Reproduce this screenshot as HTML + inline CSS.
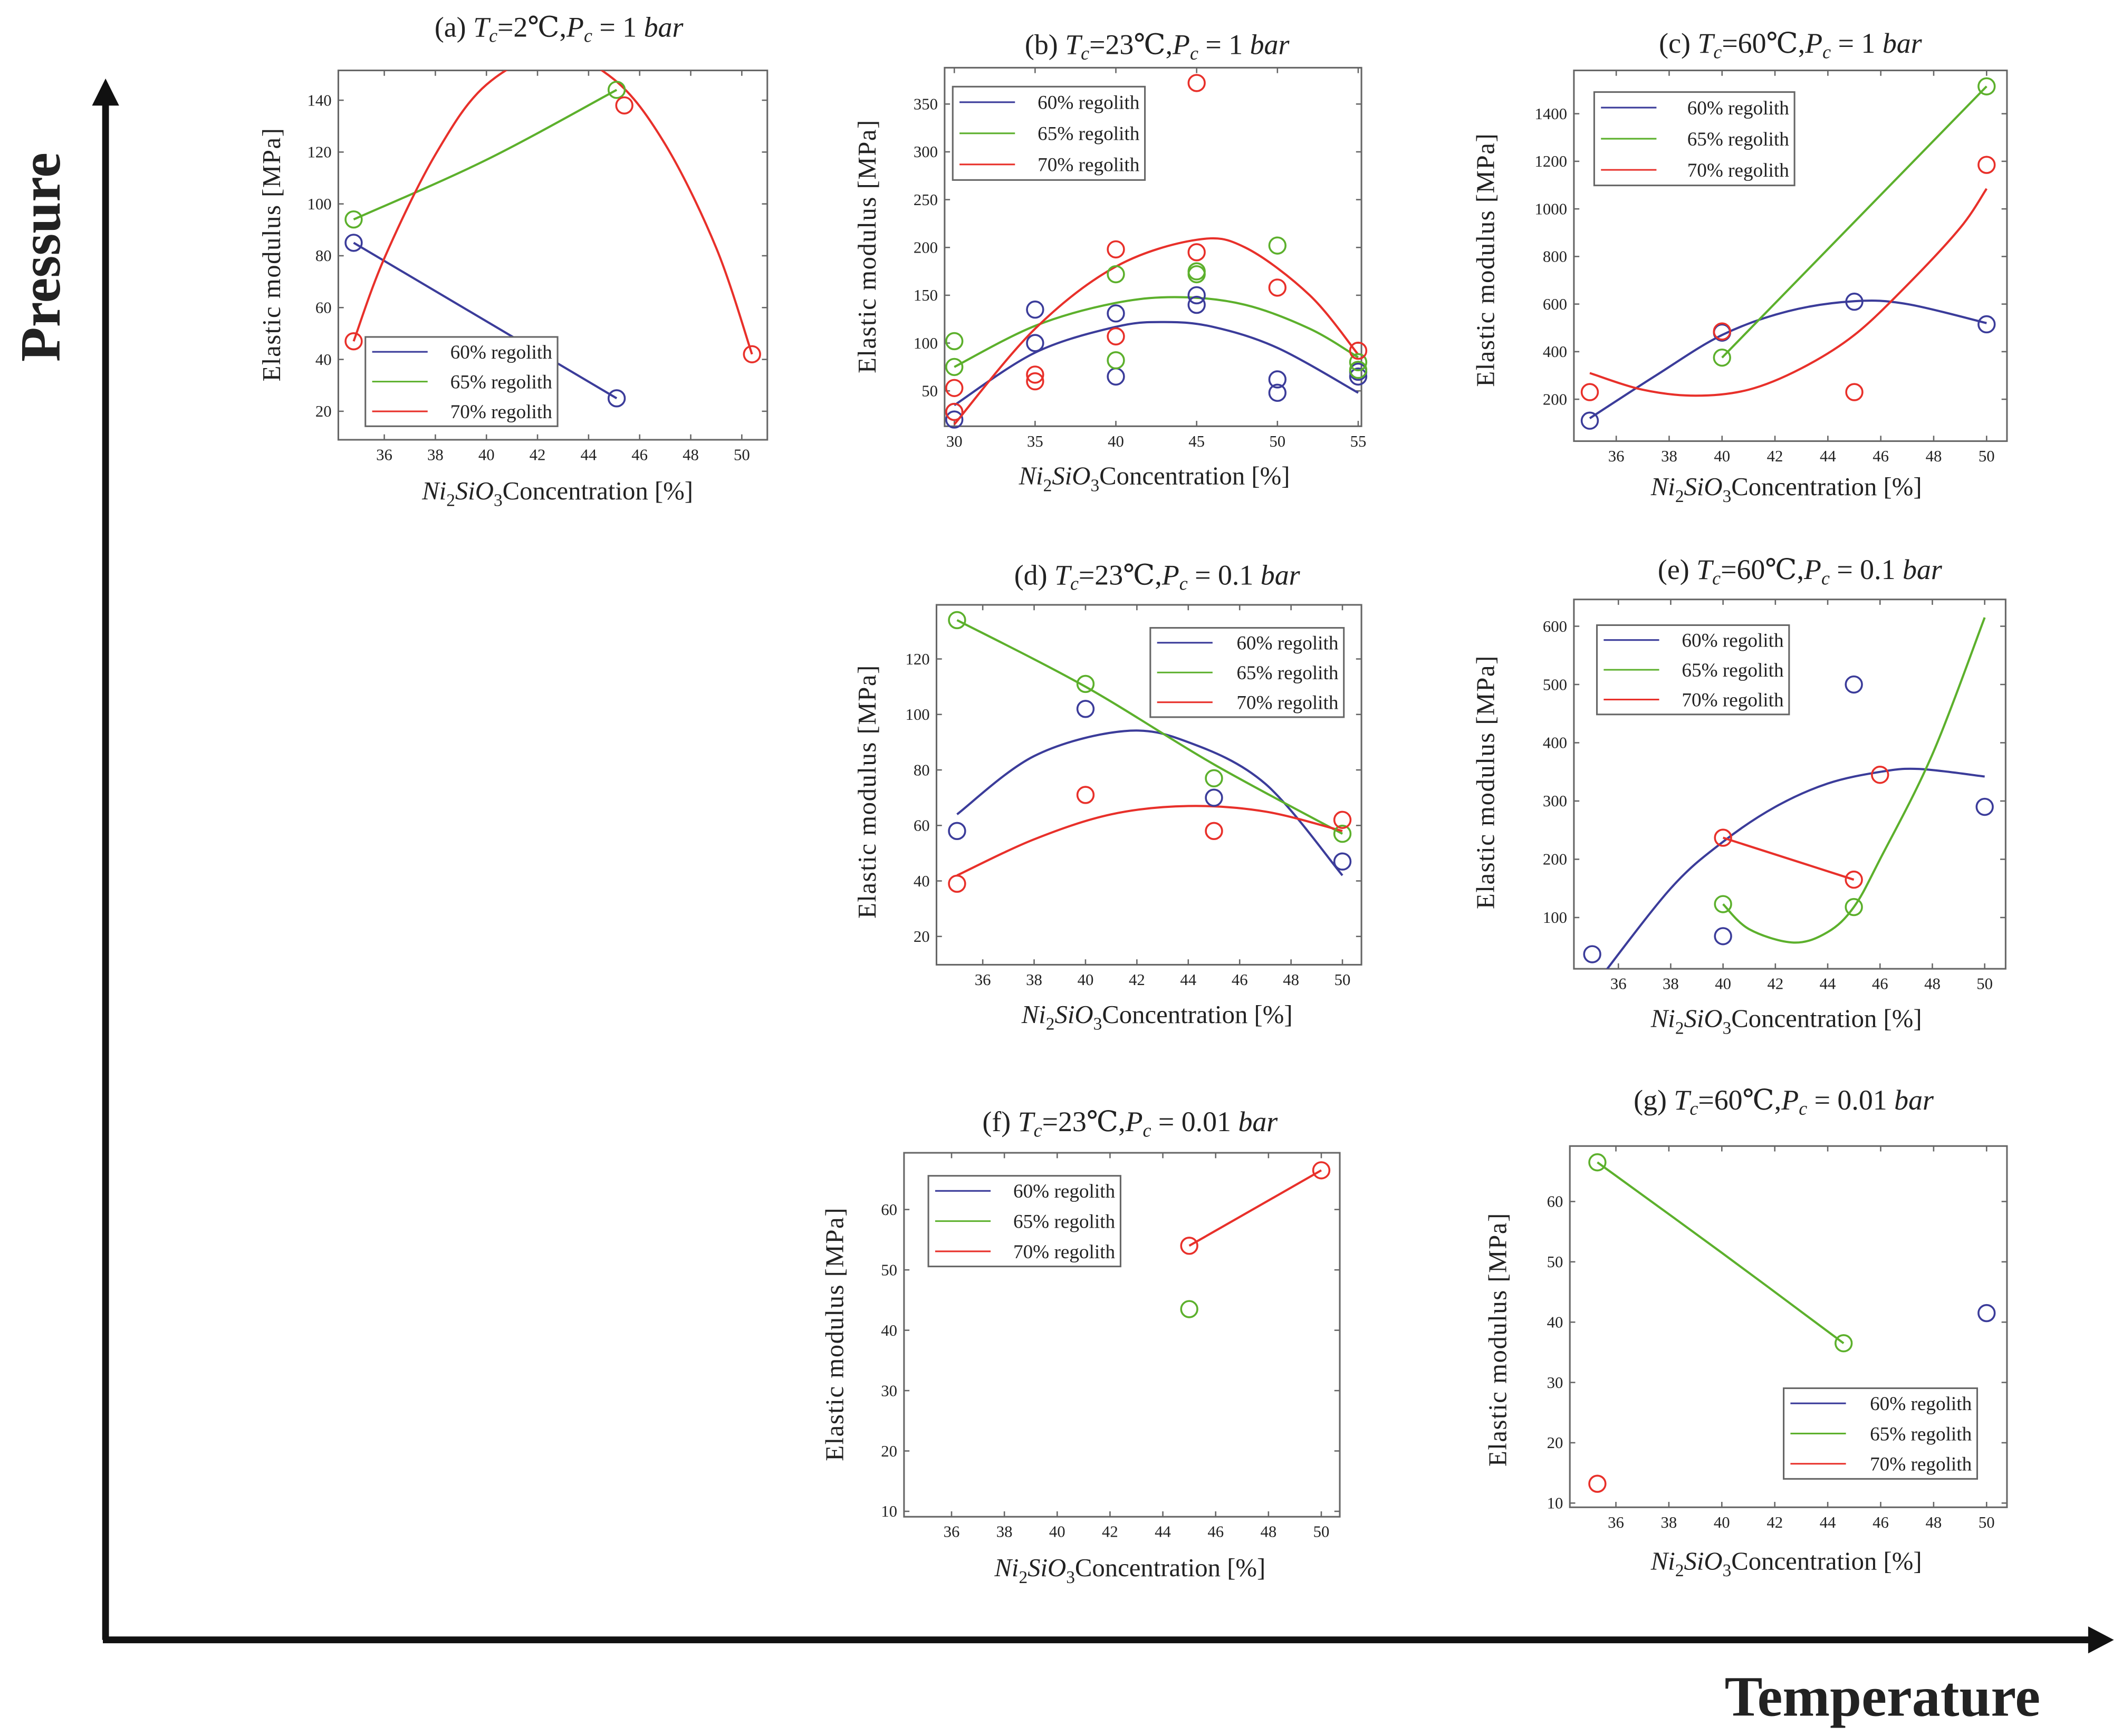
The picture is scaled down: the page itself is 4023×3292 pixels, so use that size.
<!DOCTYPE html>
<html><head><meta charset="utf-8">
<style>
html,body{margin:0;padding:0;background:#fff;}
svg{display:block;}
text{font-family:"Liberation Serif","DejaVu Serif",serif;fill:#222;}
</style></head>
<body>
<svg id="fig" width="4023" height="3292" viewBox="0 0 1568 1283" xmlns="http://www.w3.org/2000/svg">
<defs id="defs"></defs>
<g>
<line x1="78" y1="1212" x2="78" y2="76" stroke="#111" stroke-width="5"/>
<polygon points="68,78 88,78 78,58" fill="#111"/>
</g>
<g>
<line x1="76" y1="1212" x2="1545" y2="1212" stroke="#111" stroke-width="5"/>
<polygon points="1543,1202 1543,1222 1562,1212" fill="#111"/>
</g>
<text transform="translate(44,190) rotate(-90)" text-anchor="middle" font-size="42" font-weight="bold">Pressure</text>
<text x="1391" y="1268" text-anchor="middle" font-size="42" font-weight="bold">Temperature</text>
</svg>
<script>
// ---- data ----
const aBluePts=[[34.8,85],[45.1,25]];
const aGreenPts=[[34.8,94],[45.1,144]];
const aRedPts=[[34.8,47],[45.4,138],[50.4,42]];
const aBlueCurve=[[34.8,85],[45.1,25]];
const aGreenCurve=[[34.8,94],[40,117],[45.1,144]];
const aRedCurve=[[34.8,47],[36,79],[38,119],[40,146],[42.6,158],[45,148],[47,123],[49,83],[50.4,42]];

const bBluePts=[[30,20],[30,28],[35,135],[35,100],[40,131],[40,65],[45,150],[45,140],[50,62],[50,48],[55,65],[55,70]];
const bGreenPts=[[30,102],[30,75],[40,172],[40,82],[45,175],[45,172],[50,202],[55,80],[55,72]];
const bRedPts=[[30,53],[30,28],[35,67],[35,60],[40,198],[40,107],[45,372],[45,195],[50,158],[55,92]];
const bBlueCurve=[[30,35],[35,90],[40,117],[43,122],[46,117],[50,95],[55,48]];
const bGreenCurve=[[30,75],[35,118],[40,142],[44,148],[48,140],[52,115],[55,85]];
const bRedCurve=[[30,15],[35,115],[40,180],[45,208],[48,200],[52,150],[55,88]];

const cBluePts=[[35,110],[40,480],[45,610],[50,515]];
const cGreenPts=[[40,375],[50,1515]];
const cRedPts=[[35,230],[40,485],[45,230],[50,1185]];
const cBlueCurve=[[35,120],[37.5,300],[40,470],[42.5,570],[45,612],[47,600],[50,520]];
const cGreenCurve=[[40,375],[50,1515]];
const cRedCurve=[[35,310],[37,240],[39,215],[41,240],[43,330],[45,470],[47,680],[49,920],[50,1085]];

const dBluePts=[[35,58],[40,102],[45,70],[50,47]];
const dGreenPts=[[35,134],[40,111],[45,77],[50,57]];
const dRedPts=[[35,39],[40,71],[45,58],[50,62]];
const dBlueCurve=[[35,64],[38,85],[41.5,94],[44,90],[47,75],[50,42]];
const dGreenCurve=[[35,134],[40,110],[45,82],[50,57]];
const dRedCurve=[[35,42],[38,55],[41,64],[44,67],[47,65],[50,58]];

const eBluePts=[[35,37],[40,68],[45,500],[50,290]];
const eGreenPts=[[40,123],[45,118]];
const eRedPts=[[40,237],[45,165],[46,345]];
const eBlueCurve=[[35.2,-10],[38,150],[40,230],[42,290],[44,330],[46,350],[47.5,355],[50,342]];
const eGreenCurve=[[40,123],[41,80],[42.7,57],[44,75],[45,118],[46,200],[48,380],[50,615]];
const eRedCurve=[[40,237],[45,165]];

const fBluePts=[];
const fGreenPts=[[45,43.5]];
const fRedPts=[[45,54],[50,66.5]];
const fBlueCurve=[];
const fGreenCurve=[];
const fRedCurve=[[45,54],[50,66.5]];

const gBluePts=[[50,41.5]];
const gGreenPts=[[35.3,66.5],[44.6,36.5]];
const gRedPts=[[35.3,13.2]];
const gBlueCurve=[];
const gGreenCurve=[[35.3,66.5],[40,51.5],[44.6,36.5]];
const gRedCurve=[];

const xTicks36=[36,38,40,42,44,46,48,50];
const xTicksB=[30,35,40,45,50,55];
const yTicksA=[20,40,60,80,100,120,140];
const yTicksB=[50,100,150,200,250,300,350];
const yTicksC=[200,400,600,800,1000,1200,1400];
const yTicksD=[20,40,60,80,100,120];
const yTicksE=[100,200,300,400,500,600];
const yTicksF=[10,20,30,40,50,60];
const seriesLabels=["60% regolith","65% regolith","70% regolith"];

// ---- layout ----
const COLORS=["#3b3c9a","#5cb02c","#e8302a"];
const NS="http://www.w3.org/2000/svg";
const svg=document.getElementById('fig');
const defs=document.getElementById('defs');
function mk(tag,attrs,parent){const e=document.createElementNS(NS,tag);for(const k in attrs)e.setAttribute(k,attrs[k]);(parent||svg).appendChild(e);return e;}

const panels=[
 {id:'a',box:[250,52,567,325],xr:[34.2,51],yr:[9,151.5],xt:xTicks36,yt:yTicksA,leg:[270,249,412,315],pts:[aBluePts,aGreenPts,aRedPts],cur:[aBlueCurve,aGreenCurve,aRedCurve],
  title:[413,27,'(a) ','=2℃,','= 1'],xl:[412,369],yl:[207,188]},
 {id:'b',box:[698,50,1006,315],xr:[29.4,55.2],yr:[13,388],xt:xTicksB,yt:yTicksB,leg:[704,64,846,133],pts:[bBluePts,bGreenPts,bRedPts],cur:[bBlueCurve,bGreenCurve,bRedCurve],
  title:[855,40,'(b) ','=23℃,','= 1'],xl:[853,358],yl:[647,182]},
 {id:'c',box:[1163,52,1483,326],xr:[34.4,50.77],yr:[24,1582],xt:xTicks36,yt:yTicksC,leg:[1178,68,1326,137],pts:[cBluePts,cGreenPts,cRedPts],cur:[cBlueCurve,cGreenCurve,cRedCurve],
  title:[1323,39,'(c) ','=60℃,','= 1'],xl:[1320,366],yl:[1104,192]},
 {id:'d',box:[692,447,1006,713],xr:[34.2,50.74],yr:[9.8,139.5],xt:xTicks36,yt:yTicksD,leg:[850,464,993,530],pts:[dBluePts,dGreenPts,dRedPts],cur:[dBlueCurve,dGreenCurve,dRedCurve],
  title:[855,432,'(d) ','=23℃,','= 0.1'],xl:[855,756],yl:[647,585]},
 {id:'e',box:[1163,443,1482,716],xr:[34.3,50.8],yr:[12,646],xt:xTicks36,yt:yTicksE,leg:[1180,462,1322,528],pts:[eBluePts,eGreenPts,eRedPts],cur:[eBlueCurve,eGreenCurve,eRedCurve],
  title:[1330,428,'(e) ','=60℃,','= 0.1'],xl:[1320,759],yl:[1104,578]},
 {id:'f',box:[668,852,990,1121],xr:[34.2,50.7],yr:[9.1,69.4],xt:xTicks36,yt:yTicksF,leg:[686,869,828,936],pts:[fBluePts,fGreenPts,fRedPts],cur:[fBlueCurve,fGreenCurve,fRedCurve],
  title:[835,836,'(f) ','=23℃,','= 0.01'],xl:[835,1165],yl:[623,986]},
 {id:'g',box:[1160,847,1483,1114],xr:[34.26,50.77],yr:[9.3,69.2],xt:xTicks36,yt:yTicksF,leg:[1318,1026,1461,1093],pts:[gBluePts,gGreenPts,gRedPts],cur:[gBlueCurve,gGreenCurve,gRedCurve],
  title:[1318,820,'(g) ','=60℃,','= 0.01'],xl:[1320,1160],yl:[1113,990]}
];

function smoothPath(p){
 if(p.length<2)return '';
 let d='M'+p[0][0].toFixed(2)+','+p[0][1].toFixed(2);
 if(p.length===2){return d+' L'+p[1][0].toFixed(2)+','+p[1][1].toFixed(2);}
 for(let i=0;i<p.length-1;i++){
  const p0=p[i-1]||p[i],p1=p[i],p2=p[i+1],p3=p[i+2]||p2;
  const c1=[p1[0]+(p2[0]-p0[0])/6,p1[1]+(p2[1]-p0[1])/6];
  const c2=[p2[0]-(p3[0]-p1[0])/6,p2[1]-(p3[1]-p1[1])/6];
  d+=' C'+c1.map(v=>v.toFixed(2)).join(',')+' '+c2.map(v=>v.toFixed(2)).join(',')+' '+p2[0].toFixed(2)+','+p2[1].toFixed(2);
 }
 return d;
}
function addTs(t,txt,opts){const s=mk('tspan',opts||{},t);s.textContent=txt;return s;}

panels.forEach(P=>{
 const [x0,y0,x1,y1]=P.box;
 const cp=mk('clipPath',{id:'clip-'+P.id},defs);
 mk('rect',{x:x0,y:y0,width:x1-x0,height:y1-y0},cp);
 const g=mk('g',{});
 
 
 const X=v=>x0+(v-P.xr[0])/(P.xr[1]-P.xr[0])*(x1-x0);
 const Y=v=>y1-(v-P.yr[0])/(P.yr[1]-P.yr[0])*(y1-y0);
 const frame=mk('rect',{x:x0,y:y0,width:x1-x0,height:y1-y0,fill:'none',stroke:'#666','stroke-width':1.2},g);
 
 
 P.xt.forEach(t=>{
  const x=X(t);
  mk('line',{x1:x,y1:y1,x2:x,y2:y1-4,stroke:'#666','stroke-width':1},g);
  mk('line',{x1:x,y1:y0,x2:x,y2:y0+4,stroke:'#666','stroke-width':1},g);
  const tx=mk('text',{x:x,y:y1+15,'text-anchor':'middle','font-size':12},g);
  
  
  tx.textContent=t;
 });
 P.yt.forEach(t=>{
  const y=Y(t);
  mk('line',{x1:x0,y1:y,x2:x0+4,y2:y,stroke:'#666','stroke-width':1},g);
  mk('line',{x1:x1,y1:y,x2:x1-4,y2:y,stroke:'#666','stroke-width':1},g);
  const tx=mk('text',{x:x0-5,y:y+4,'text-anchor':'end','font-size':12},g);
  
  
  tx.textContent=t;
 });
 const cg=mk('g',{'clip-path':'url(#clip-'+P.id+')'},g);
 
 
 P.cur.forEach((c,i)=>{
  if(!c.length)return;
  const pa=mk('path',{d:smoothPath(c.map(q=>[X(q[0]),Y(q[1])])),fill:'none',stroke:COLORS[i],'stroke-width':1.6},cg);
  
  
 });
 P.pts.forEach((s,i)=>{
  s.forEach(q=>{
   const c=mk('circle',{cx:X(q[0]),cy:Y(q[1]),r:6,fill:'none',stroke:COLORS[i],'stroke-width':1.4},g);
   
   
  });
 });
 const [lx0,ly0,lx1,ly1]=P.leg;
 const lg=mk('g',{},g);
 
 
 mk('rect',{x:lx0,y:ly0,width:lx1-lx0,height:ly1-ly0,fill:'#fff',stroke:'#666','stroke-width':1.2},lg);
 const rowH=(ly1-ly0)/3;
 seriesLabels.forEach((lab,i)=>{
  const yy=ly0+rowH*(i+0.5);
  mk('line',{x1:lx0+5,y1:yy,x2:lx0+46,y2:yy,stroke:COLORS[i],'stroke-width':1.2},lg);
  const t=mk('text',{x:lx1-4,y:yy+5,'text-anchor':'end','font-size':14.5},lg);
  
  
  t.textContent=lab;
 });
 const T=P.title;
 const tt=mk('text',{x:T[0],y:T[1],'text-anchor':'middle','font-size':21},g);
 
 
 addTs(tt,T[2]);addTs(tt,'T',{'font-style':'italic'});addTs(tt,'c',{'font-style':'italic','font-size':14,dy:4});
 addTs(tt,T[3],{dy:-4});addTs(tt,'P',{'font-style':'italic'});addTs(tt,'c',{'font-style':'italic','font-size':14,dy:4});
 addTs(tt,' '+T[4]+' ',{dy:-4});addTs(tt,'bar',{'font-style':'italic'});
 const xl=mk('text',{x:P.xl[0],y:P.xl[1],'text-anchor':'middle','font-size':19},g);
 
 
 addTs(xl,'Ni',{'font-style':'italic'});addTs(xl,'2',{'font-size':13,dy:5});addTs(xl,'SiO',{'font-style':'italic',dy:-5});
 addTs(xl,'3',{'font-size':13,dy:5});addTs(xl,'Concentration  [%]',{dy:-5});
 const yl=mk('text',{transform:'translate('+P.yl[0]+','+P.yl[1]+') rotate(-90)','text-anchor':'middle','font-size':19,'letter-spacing':'0.6'},g);
 
 
 yl.textContent='Elastic  modulus  [MPa]';
});
</script>
</body></html>
